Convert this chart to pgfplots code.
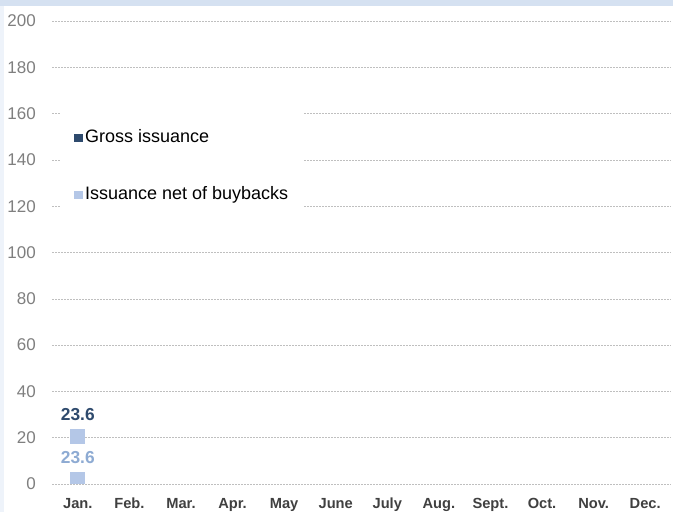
\documentclass[border=0pt]{standalone}
\usepackage{fontspec}
\setmainfont{Liberation Sans}
\usepackage{pgfplots}
\pgfplotsset{compat=1.18}
\definecolor{gross}{HTML}{2E4A6D}
\definecolor{net}{HTML}{B4C7E7}
\definecolor{netlab}{HTML}{8EABD3}
\definecolor{strip}{HTML}{D5E1F1}
\definecolor{leftstrip}{HTML}{EEF3FA}
\definecolor{ylab}{HTML}{7F7F7F}
\definecolor{xlab}{HTML}{404040}
\definecolor{gridc}{HTML}{BFBFBF}
\begin{document}
\begin{tikzpicture}
\useasboundingbox (0,0) rectangle (504.75pt,384pt);
\fill[white] (0,0) rectangle (504.75pt,384pt);
\fill[leftstrip] (0,0) rectangle (3pt,384pt);
\fill[strip] (0,379.5pt) rectangle (504.75pt,384pt);
\begin{axis}[
  at={(39pt,21pt)}, anchor=south west,
  scale only axis, width=464.25pt, height=347.25pt,
  xmin=-0.5, xmax=11.5, ymin=0, ymax=200,
  ytick={0,20,...,200},
  xtick={0,...,11},
  xticklabels={Jan.,Feb.,Mar.,Apr.,May,June,July,Aug.,Sept.,Oct.,Nov.,Dec.},
  axis line style={draw=none},
  major tick length=0pt,
  ymajorgrids,
  grid style={gridc, line width=0.4pt, dash pattern=on 1.5pt off 0.75pt},
  /pgf/number format/assume math mode=true,
  yticklabel style={font=\fontsize{12.75}{14}\selectfont, text=ylab, anchor=east, inner sep=0pt, xshift=-12pt},
  xticklabel style={font=\bfseries\fontsize{11}{13}\selectfont, text=xlab, anchor=base, inner sep=0pt, yshift=-18pt},
  ybar, bar width=11.25pt,
  legend image code/.code={\fill[#1] (0pt,-3.3pt) rectangle (6.6pt,3.3pt);},
  legend style={at={(rel axis cs:0.013,0.81)}, anchor=north west, draw=none, fill=white,
    font=\fontsize{13.5}{16}\selectfont, row sep=29.75pt, inner xsep=10.5pt, inner ysep=15pt,
    nodes={inner xsep=1.5pt, inner ysep=0pt, text height=10pt, text depth=3pt}},
  legend cell align=left,
]
\addplot[fill=gross, draw=none, bar shift=0pt,
  nodes near coords,
  every node near coord/.append style={font=\bfseries\fontsize{13}{15}\selectfont, text=gross, anchor=south, inner sep=0pt, yshift=6pt}]
  coordinates {(0,23.6)};
\addlegendentry{Gross issuance}
\addplot[fill=net, draw=none, bar shift=0pt,
  nodes near coords,
  every node near coord/.append style={font=\bfseries\fontsize{13}{15}\selectfont, text=netlab, anchor=center, fill=white, inner xsep=1pt, inner ysep=5.8pt, yshift=-21.5pt}]
  coordinates {(0,23.6)};
\addlegendentry{Issuance net of buybacks}
\end{axis}
\end{tikzpicture}
\end{document}
